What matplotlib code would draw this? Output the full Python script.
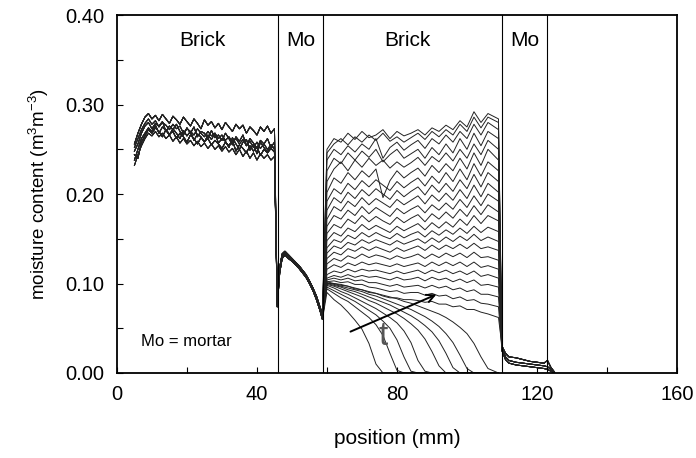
import numpy as np
import matplotlib.pyplot as plt

plt.rcParams['font.family'] = ['Liberation Sans', 'DejaVu Sans']
plt.rcParams['mathtext.fontset'] = 'custom'
plt.rcParams['mathtext.rm'] = 'Liberation Sans'
plt.rcParams['mathtext.it'] = 'Liberation Sans:italic'

# moisture content in 1e-3 m3/m3
x_left = list(range(5, 46))
left_profiles = [
    [238, 250, 262, 268, 274, 270, 277, 268, 275, 271, 266, 273, 268, 262, 271, 265, 270, 260, 267, 264, 258,
     266, 261, 268, 257, 262, 259, 252, 263, 256, 250, 258, 261, 249, 256, 245, 258, 252, 247, 255, 250],
    [248, 256, 268, 276, 280, 273, 279, 276, 281, 270, 276, 272, 278, 270, 266, 274, 268, 275, 264, 270, 268,
     262, 271, 263, 266, 260, 268, 262, 255, 264, 259, 266, 254, 262, 257, 251, 260, 256, 262, 252, 258],
    [244, 240, 258, 265, 272, 268, 274, 270, 264, 272, 267, 270, 262, 268, 264, 258, 266, 262, 256, 263, 259,
     262, 255, 260, 256, 251, 258, 254, 260, 248, 255, 251, 246, 254, 248, 253, 243, 250, 246, 251, 247],
    [256, 268, 278, 286, 290, 284, 288, 282, 289, 284, 279, 287, 283, 278, 286, 281, 276, 284, 279, 273, 283,
     277, 281, 274, 279, 272, 280, 275, 270, 278, 273, 277, 268, 275, 271, 266, 275, 270, 276, 268, 273],
    [252, 262, 272, 279, 284, 278, 282, 275, 280, 277, 272, 278, 273, 276, 268, 273, 270, 266, 273, 268, 264,
     270, 265, 268, 262, 266, 260, 264, 258, 262, 256, 261, 254, 259, 252, 258, 251, 256, 250, 255, 251],
    [232, 244, 254, 262, 268, 265, 270, 264, 268, 262, 266, 259, 264, 257, 262, 256, 260, 254, 259, 253, 257,
     251, 256, 250, 254, 248, 253, 247, 251, 244, 250, 242, 248, 240, 246, 238, 245, 240, 244, 238, 242],
]

x_mortar = [45.8, 46.5, 47.2, 48, 49, 50, 51, 52, 53, 54, 55, 56, 57, 58, 58.7]
mortar_profiles = [
    [74, 112, 128, 132, 128, 125, 121, 117, 112, 107, 100, 92, 82, 70, 60],
    [80, 118, 133, 136, 132, 128, 124, 120, 115, 110, 103, 95, 86, 74, 66],
    [77, 115, 130, 134, 131, 127, 123, 119, 114, 109, 101, 94, 84, 72, 63],
]

x_brick = [60, 62, 64, 66, 68, 70, 72, 74, 76, 78, 80, 82, 84, 86, 88, 90, 92, 94, 96, 98, 100, 102, 104, 106, 109]
brick_wet = [
    [250, 262, 258, 268, 261, 270, 263, 266, 272, 262, 270, 265, 268, 272, 266, 274, 270, 277, 272, 282, 275, 292, 280, 290, 284],
    [246, 256, 262, 255, 264, 258, 266, 260, 268, 259, 264, 258, 263, 268, 261, 270, 264, 272, 266, 278, 270, 286, 274, 286, 280],
    [238, 250, 244, 254, 247, 256, 250, 262, 240, 252, 258, 249, 255, 260, 251, 262, 256, 266, 258, 270, 262, 278, 266, 280, 272],
    [226, 240, 234, 246, 238, 248, 241, 250, 236, 244, 250, 240, 245, 250, 240, 252, 244, 256, 246, 262, 250, 268, 254, 270, 262],
    [214, 228, 236, 226, 238, 230, 240, 232, 238, 229, 236, 230, 235, 241, 232, 242, 236, 246, 237, 250, 240, 256, 244, 260, 250],
    [202, 218, 212, 224, 216, 226, 219, 228, 196, 215, 226, 218, 224, 229, 220, 232, 224, 234, 226, 240, 228, 246, 232, 250, 238],
    [192, 206, 200, 212, 205, 215, 208, 216, 210, 204, 214, 207, 213, 218, 209, 220, 212, 224, 214, 228, 216, 234, 220, 236, 226],
    [182, 196, 190, 202, 195, 205, 198, 206, 200, 194, 204, 197, 203, 208, 199, 210, 202, 212, 203, 216, 206, 222, 208, 224, 214],
    [172, 186, 181, 192, 186, 196, 188, 195, 190, 185, 194, 188, 193, 198, 189, 199, 192, 201, 193, 205, 195, 210, 197, 212, 202],
    [164, 176, 172, 182, 176, 186, 178, 185, 180, 175, 184, 178, 183, 187, 179, 188, 182, 190, 183, 194, 185, 198, 187, 200, 192],
    [156, 166, 162, 172, 167, 176, 169, 175, 170, 166, 174, 168, 173, 177, 169, 178, 172, 180, 173, 183, 175, 187, 177, 188, 180],
    [148, 157, 153, 162, 158, 166, 160, 165, 161, 157, 164, 159, 163, 167, 160, 168, 162, 169, 163, 172, 165, 176, 167, 176, 170],
    [140, 149, 146, 154, 150, 157, 152, 157, 153, 150, 156, 151, 155, 158, 152, 159, 154, 160, 155, 162, 156, 164, 157, 163, 158],
    [134, 142, 139, 146, 143, 149, 145, 149, 146, 143, 148, 144, 147, 150, 145, 151, 146, 152, 147, 153, 148, 155, 148, 152, 147],
    [128, 135, 132, 139, 136, 141, 137, 141, 138, 135, 140, 136, 139, 142, 137, 143, 138, 143, 139, 144, 139, 145, 139, 141, 137],
    [122, 128, 125, 131, 128, 133, 129, 132, 130, 127, 131, 128, 130, 133, 128, 133, 129, 134, 130, 134, 129, 135, 129, 130, 126],
    [116, 121, 118, 123, 120, 124, 121, 123, 121, 119, 122, 119, 121, 123, 119, 124, 120, 124, 120, 124, 119, 124, 118, 120, 116],
    [110, 114, 112, 116, 113, 116, 114, 115, 113, 111, 114, 111, 113, 115, 111, 115, 112, 115, 111, 114, 110, 114, 108, 110, 106],
    [106, 109, 107, 110, 107, 109, 107, 108, 106, 104, 107, 104, 105, 107, 103, 107, 104, 106, 102, 105, 101, 104, 98, 99, 96],
    [104, 106, 104, 106, 103, 104, 101, 101, 99, 97, 99, 96, 97, 98, 95, 98, 95, 97, 93, 95, 91, 93, 88, 88, 85],
    [102, 103, 101, 102, 99, 99, 96, 95, 93, 91, 92, 89, 90, 90, 87, 89, 86, 87, 83, 85, 81, 82, 78, 77, 74],
    [100, 100, 98, 97, 94, 93, 90, 89, 86, 84, 84, 82, 82, 81, 79, 80, 77, 77, 74, 75, 71, 71, 68, 66, 62],
]
brick_front = [
    [90, 82, 76, 68, 59, 49, 33, 10, 0, 0, 0, 0, 0, 0, 0, 0, 0, 0, 0, 0, 0, 0, 0, 0, 0],
    [94, 89, 84, 80, 74, 68, 62, 54, 42, 22, 3, 0, 0, 0, 0, 0, 0, 0, 0, 0, 0, 0, 0, 0, 0],
    [96, 92, 88, 84, 80, 75, 70, 65, 58, 50, 37, 18, 2, 0, 0, 0, 0, 0, 0, 0, 0, 0, 0, 0, 0],
    [98, 95, 91, 88, 84, 80, 76, 72, 67, 62, 56, 47, 34, 14, 2, 0, 0, 0, 0, 0, 0, 0, 0, 0, 0],
    [99, 97, 94, 91, 88, 85, 81, 78, 74, 70, 66, 61, 55, 48, 38, 24, 8, 0, 0, 0, 0, 0, 0, 0, 0],
    [100, 98, 96, 93, 91, 88, 85, 82, 79, 76, 72, 68, 64, 59, 53, 46, 36, 22, 6, 0, 0, 0, 0, 0, 0],
    [101, 99, 97, 95, 93, 91, 88, 86, 83, 80, 77, 74, 71, 67, 63, 58, 52, 44, 34, 20, 5, 0, 0, 0, 0],
    [102, 100, 99, 97, 95, 93, 91, 89, 87, 85, 83, 80, 78, 75, 72, 69, 66, 62, 57, 51, 44, 33, 18, 5, 0],
]

x_tail = [110, 111, 112, 114, 116, 118, 120, 122, 123, 124, 125]
tail_profiles = [
    [30, 22, 18, 17, 15, 13, 12, 11, 14, 6, 1],
    [28, 18, 14, 12, 11, 10, 9, 8, 7, 4, 0],
    [25, 15, 11, 9, 8, 7, 6, 5, 4, 2, 0],
]

boundaries = [46, 59, 110, 123]
layer_names = ['Brick', 'Mo', 'Brick', 'Mo']
layer_centers = [24.5, 52.5, 83, 116.5]

fig = plt.figure(figsize=(6.96, 4.58), dpi=100)
ax = fig.add_axes([0.168, 0.1856, 0.8047, 0.7814])

line_col = '#222222'
for i, row in enumerate(brick_wet):
    xs = x_left + x_mortar + x_brick + x_tail
    ys = left_profiles[i % 6] + mortar_profiles[i % 3] + row + tail_profiles[i % 3]
    ax.plot(xs, np.array(ys) / 1000, color=line_col, lw=0.7)

for i, row in enumerate(brick_front):
    xs = x_left + x_mortar + x_brick
    ys = left_profiles[(i + 2) % 6] + mortar_profiles[i % 3] + row
    ax.plot(xs, np.array(ys) / 1000, color=line_col, lw=0.7)

for b in boundaries:
    ax.axvline(b, color='black', lw=0.8)

for name, xc in zip(layer_names, layer_centers):
    ax.text(xc, 0.372, name, ha='center', va='center', fontsize=15)

ax.text(7, 0.035, 'Mo = mortar', ha='left', va='center', fontsize=12)
ax.text(76, 0.041, 't', ha='center', va='center', fontsize=24, color='#555555')
ax.annotate('', xy=(92, 0.089), xytext=(66, 0.045),
            arrowprops=dict(arrowstyle='->', color='black', lw=1.4, mutation_scale=14))

ax.set_xlim(0, 160)
ax.set_ylim(0, 0.40)
ax.set_xticks([0, 40, 80, 120, 160])
ax.set_xticks([20, 60, 100, 140], minor=True)
ax.set_yticks([0, 0.1, 0.2, 0.3, 0.4])
ax.set_yticks([0.05, 0.15, 0.25, 0.35], minor=True)
ax.set_yticklabels(['0.00', '0.10', '0.20', '0.30', '0.40'])
ax.tick_params(which='both', direction='in', length=4, width=0.8, labelsize=14.5)
ax.tick_params(axis='x', pad=9)
ax.tick_params(axis='y', pad=9)
for s in ax.spines.values():
    s.set_linewidth(1.3)

ax.set_xlabel('position (mm)', fontsize=15, labelpad=18)
ax.set_ylabel('moisture content (m$^3$m$^{-3}$)', fontsize=13.5, labelpad=10)

fig.savefig('out.png', dpi=100)
